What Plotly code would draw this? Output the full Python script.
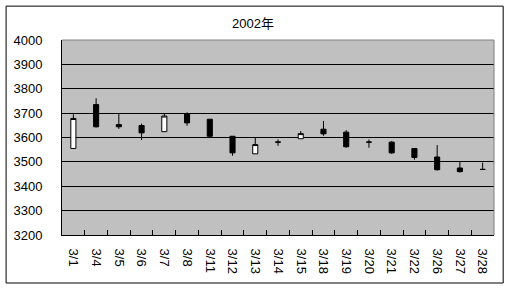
import plotly.graph_objects as go

dates = ["3/1", "3/4", "3/5", "3/6", "3/7", "3/8", "3/11", "3/12", "3/13", "3/14",
         "3/15", "3/18", "3/19", "3/20", "3/21", "3/22", "3/26", "3/27", "3/28"]
opens = [3555, 3735, 3653, 3649, 3624, 3698, 3675, 3605, 3533, 3581,
         3595, 3634, 3622, 3581, 3581, 3555, 3520, 3475, 3469]
highs = [3695, 3761, 3697, 3657, 3697, 3703, 3675, 3605, 3600, 3592,
         3626, 3668, 3630, 3592, 3585, 3555, 3569, 3502, 3497]
lows = [3555, 3641, 3635, 3590, 3624, 3648, 3601, 3525, 3533, 3566,
        3595, 3607, 3558, 3558, 3533, 3509, 3464, 3456, 3469]
closes = [3678, 3644, 3644, 3619, 3688, 3660, 3605, 3537, 3571, 3581,
          3616, 3615, 3562, 3581, 3537, 3518, 3468, 3460, 3469]
y_ticks = [3200, 3300, 3400, 3500, 3600, 3700, 3800, 3900, 4000]
title_text = "2002年"

W, H = 509, 288
L, R, T, B = 61.5, 494.3, 39.5, 235.3

fig = go.Figure(go.Candlestick(
    x=dates, open=opens, high=highs, low=lows, close=closes,
    increasing=dict(line=dict(color="black", width=1), fillcolor="white"),
    decreasing=dict(line=dict(color="black", width=1), fillcolor="black"),
    whiskerwidth=0, hoverinfo="x+y",
))

font = "Liberation Sans, Arial, Noto Sans CJK JP, sans-serif"

def px_x(p):
    return (p - L) / (R - L)

def px_y(p):
    return (B - p) / (B - T)

fig.update_layout(
    width=W, height=H,
    margin=dict(l=L, r=W - R, t=T, b=H - B, pad=0),
    paper_bgcolor="white", plot_bgcolor="#C0C0C0",
    showlegend=False, boxgap=0.68,
    font=dict(family=font, size=13, color="black"),
    title=dict(text=title_text, x=0.497, xanchor="center", y=1 - 23 / H, yanchor="middle",
               font=dict(family=font, size=13, color="black")),
    xaxis=dict(type="category", rangeslider=dict(visible=False), showgrid=False,
               tickangle=90, ticks="inside", ticklen=5, tickcolor="black",
               tickson="boundaries", showline=True, linecolor="black", linewidth=1,
               ticklabelstandoff=10, tickfont=dict(size=13)),
    yaxis=dict(range=[3200, 4000], tickvals=y_ticks, showgrid=True, gridcolor="black",
               gridwidth=1, showline=True, linecolor="black", linewidth=1,
               ticks="", ticklabelstandoff=16, zeroline=False, tickfont=dict(size=13)),
    shapes=[
        dict(type="line", xref="paper", yref="paper", x0=0, x1=1, y0=1, y1=1,
             line=dict(color="#808080", width=1)),
        dict(type="line", xref="paper", yref="paper", x0=1, x1=1, y0=0, y1=1,
             line=dict(color="#808080", width=1)),
        dict(type="rect", xref="paper", yref="paper",
             x0=px_x(5.5), x1=px_x(503.5), y0=px_y(283.5), y1=px_y(5.5),
             line=dict(color="black", width=1), layer="above"),
    ],
)

fig.write_html("out.html")
